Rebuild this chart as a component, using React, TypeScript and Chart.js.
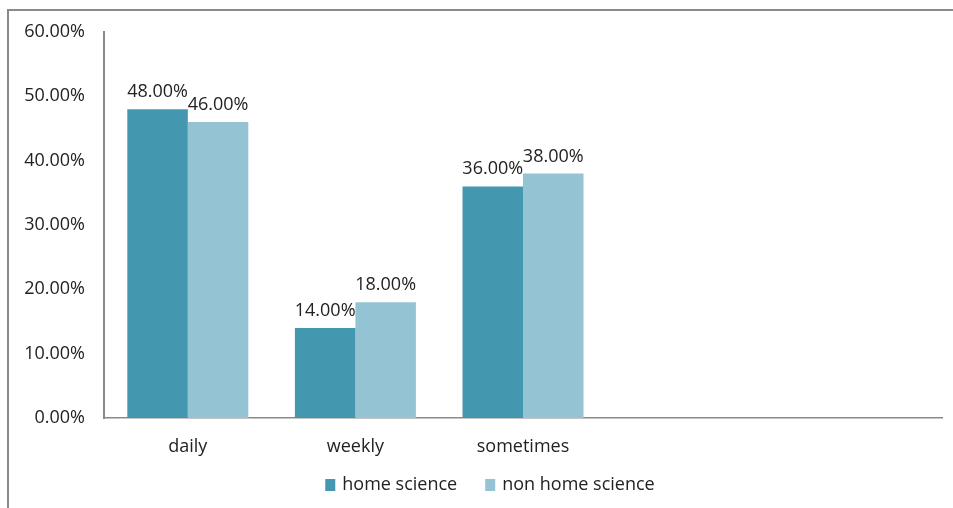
import React, { useEffect, useRef } from "react";
import { Chart, registerables } from "chart.js";

Chart.register(...registerables);

// Survey frequency by group (percent)
const categories = ["daily", "weekly", "sometimes", "", ""];
const homeScience = [48, 14, 36];
const nonHomeScience = [46, 18, 38];
const seriesNames = ["home science", "non home science"];
const yTicks = { min: 0, max: 60, step: 10 };

const DARK = "#4398af";
const LIGHT = "#94c4d4";
const TEXT = "#222222";
const AXIS = "#8a8a8a";
const FONT = "'Open Sans', sans-serif";

const pct = (v: number) => v.toFixed(2) + "%";

// Writes each bar's value just above its top edge
const valueLabels = {
  id: "valueLabels",
  afterDatasetsDraw(chart: any) {
    const ctx = chart.ctx;
    ctx.save();
    ctx.font = `18px ${FONT}`;
    ctx.fillStyle = TEXT;
    ctx.textAlign = "center";
    ctx.textBaseline = "alphabetic";
    chart.data.datasets.forEach((ds: any, di: number) => {
      const meta = chart.getDatasetMeta(di);
      meta.data.forEach((bar: any, i: number) => {
        const v = ds.data[i];
        if (v == null) return;
        ctx.fillText(pct(v), bar.x, bar.y - 12);
      });
    });
    ctx.restore();
  },
};

// Single-row legend under the category labels
const bottomLegend = {
  id: "bottomLegend",
  afterDraw(chart: any) {
    const ctx = chart.ctx;
    const area = chart.chartArea;
    const box = 10;
    const boxH = 12;
    const gap = 7;
    const spacing = 28;
    ctx.save();
    ctx.font = `18px ${FONT}`;
    const items = chart.data.datasets.map((ds: any) => ({
      text: ds.label,
      color: ds.backgroundColor,
      w: ctx.measureText(ds.label).width,
    }));
    const total =
      items.reduce((s: number, it: any) => s + box + gap + it.w, 0) +
      spacing * (items.length - 1);
    const cy = area.bottom + 67;
    let x = (area.left + area.right) / 2 - 33 - total / 2;
    ctx.textBaseline = "middle";
    ctx.textAlign = "left";
    items.forEach((it: any) => {
      ctx.fillStyle = it.color;
      ctx.fillRect(x, cy - boxH / 2, box, boxH);
      x += box + gap;
      ctx.fillStyle = TEXT;
      ctx.fillText(it.text, x, cy);
      x += it.w + spacing;
    });
    ctx.restore();
  },
};

export default function App() {
  const ref = useRef<HTMLCanvasElement>(null);

  useEffect(() => {
    if (!ref.current) return;
    const chart = new Chart(ref.current, {
      type: "bar",
      data: {
        labels: categories,
        datasets: [
          {
            label: seriesNames[0],
            data: homeScience,
            backgroundColor: DARK,
            categoryPercentage: 0.722,
            barPercentage: 1,
          },
          {
            label: seriesNames[1],
            data: nonHomeScience,
            backgroundColor: LIGHT,
            categoryPercentage: 0.722,
            barPercentage: 1,
          },
        ],
      },
      options: {
        animation: false,
        responsive: false,
        devicePixelRatio: 1,
        layout: { padding: { left: 0, right: 11, top: 32, bottom: 0 } },
        plugins: {
          legend: { display: false },
          tooltip: { enabled: false },
        },
        scales: {
          x: {
            grid: { display: false },
            border: { display: true, color: AXIS, width: 1.5 },
            ticks: {
              color: TEXT,
              font: { family: FONT, size: 18 },
              padding: 10,
              maxRotation: 0,
              autoSkip: false,
            },
            afterFit: (s: any) => {
              s.height = 90;
            },
          },
          y: {
            min: yTicks.min,
            max: yTicks.max,
            grid: { display: false },
            border: { display: true, color: AXIS, width: 2 },
            ticks: {
              stepSize: yTicks.step,
              color: TEXT,
              font: { family: FONT, size: 18 },
              padding: 11,
              callback: (v: any) => pct(Number(v)),
            },
            afterFit: (s: any) => {
              s.width = 104;
            },
          },
        },
      },
      plugins: [valueLabels, bottomLegend],
    });
    return () => chart.destroy();
  }, []);

  return (
    <div
      style={{
        position: "fixed",
        left: 0,
        top: 0,
        width: 953,
        height: 508,
        overflow: "hidden",
        background: "#fff",
      }}
    >
      <div
        style={{
          position: "absolute",
          left: 7,
          top: 9,
          width: 1000,
          height: 600,
          borderLeft: "2px solid #8a8a8a",
          borderTop: "2px solid #8a8a8a",
        }}
      />
      <canvas
        ref={ref}
        width={953}
        height={508}
        style={{ position: "absolute", left: 0, top: 0 }}
      />
    </div>
  );
}
